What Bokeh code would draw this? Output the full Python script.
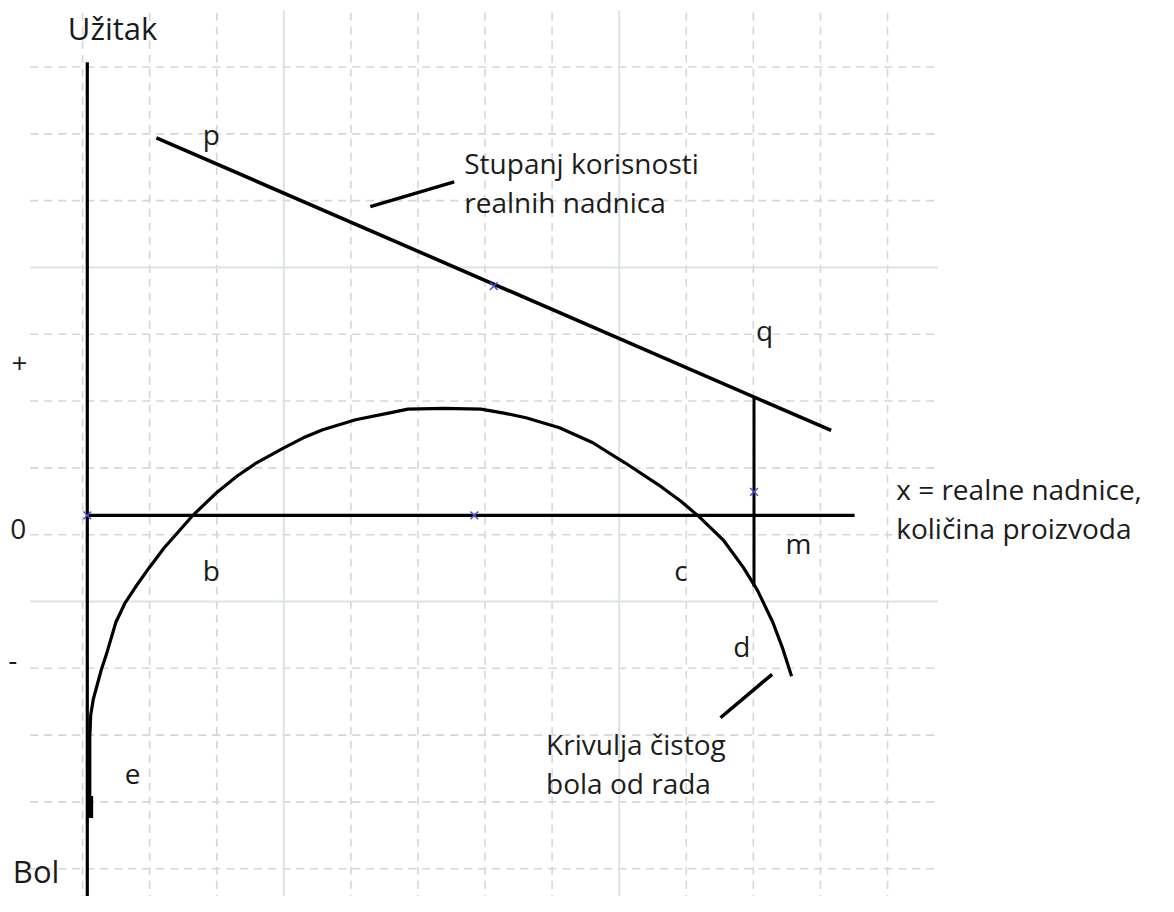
from bokeh.plotting import figure
from bokeh.models import Range1d
from bokeh.core.properties import value
from bokeh.embed import file_html
from bokeh.resources import INLINE

# ---------------- data (grid units, origin at axes crossing) ----------------
# background grid positions
grid_x_dashed = [-0.07, 0.93, 1.93, 3.93, 4.93, 5.93, 6.93, 8.93, 9.93, 10.93, 11.93]
grid_x_solid = [2.93, 7.93]
grid_y_dashed = [6.71, 5.71, 4.71, 2.71, 1.71, 0.71, -0.29, -2.29, -3.29, -4.29, -5.29]
grid_y_solid = [3.71, -1.29]
grid_x_span = [-0.85, 12.68]
grid_y_span = [-5.8, 7.56]

# axes
y_axis_span = [-5.8, 6.78]
x_axis_span = [0.0, 11.44]

# utility of real wages (straight line p - q)
wage_x = [1.03, 11.09]
wage_y = [5.65, 1.27]

# vertical segment q - m
qm_x = 9.94
qm_y = [1.77, -1.07]

# curve of net pain of labour
curve_x = [0.037, 0.037, 0.037, 0.051, 0.088, 0.147, 0.206, 0.279, 0.353, 0.426,
           0.559, 0.721, 0.926, 1.147, 1.368, 1.574, 1.94, 2.235, 2.53, 2.93,
           3.22, 3.51, 4.00, 4.49, 4.78, 5.32, 5.87, 6.21, 6.54, 7.04, 7.53,
           8.01, 8.51, 8.85, 9.12, 9.49, 9.78, 9.99, 10.22, 10.37, 10.50]
curve_y = [-4.53, -3.91, -3.32, -2.99, -2.76, -2.54, -2.32, -2.10, -1.85, -1.60,
           -1.32, -1.07, -0.78, -0.485, -0.235, 0.0, 0.35, 0.588, 0.79, 1.01,
           1.16, 1.28, 1.43, 1.53, 1.59, 1.60, 1.59, 1.53, 1.46, 1.31, 1.09,
           0.79, 0.46, 0.21, -0.02, -0.38, -0.78, -1.12, -1.60, -2.00, -2.41]
# thicker end of the curve where it runs along the axis
tail_x = [0.05, 0.05]
tail_y = [-4.20, -4.53]

# small blue construction marks
mark_x = [0.0, 5.77, 6.06, 9.94]
mark_y = [0.0, 0.0, 3.43, 0.35]

# short pointer strokes for the two captions
ptr_x0 = [4.22, 9.44]
ptr_y0 = [4.62, -3.03]
ptr_x1 = [5.47, 10.21]
ptr_y1 = [4.99, -2.38]

# labels
lab_x = [1.72, 5.62, 5.62, 9.97, -1.13, -1.15, 1.72, 8.75, 10.41, 9.63, 0.56,
         12.06, 12.06, 6.84, 6.84]
lab_y = [5.71, 5.28, 4.69, 2.77, 2.28, -0.20, -0.82, -0.82, -0.41, -1.95, -3.87,
         0.39, -0.19, -3.42, -4.01]
lab_text = ["p", "Stupanj korisnosti", "realnih nadnica", "q", "+", "0", "b", "c",
            "m", "d", "e", "x = realne nadnice,", "količina proizvoda",
            "Krivulja čistog", "bola od rada"]
minus_x = [-1.18]
minus_y = [-2.16]
big_x = [-0.29, -1.11]
big_y = [7.30, -5.33]
big_text = ["Užitak", "Bol"]

# ---------------- figure ----------------
W, H = 1158, 896
U = 68.0
p = figure(width=W, height=H, output_backend="svg", toolbar_location=None,
           x_range=Range1d(-88 / U, (1174 - 88) / U),
           y_range=Range1d((524 - 912) / U, 524 / U),
           min_border=0, background_fill_color="white", border_fill_color="white")
p.axis.visible = False
p.grid.visible = False
p.outline_line_color = None

dash_col = "#d6d6d6"
solid_col = "#dbe3e3"

# grid
p.segment(x0=grid_x_dashed, y0=[grid_y_span[0]] * len(grid_x_dashed),
          x1=grid_x_dashed, y1=[grid_y_span[1]] * len(grid_x_dashed),
          line_color=dash_col, line_width=1.6, line_dash="8 6")
p.segment(x0=[grid_x_span[0]] * len(grid_y_dashed), y0=grid_y_dashed,
          x1=[grid_x_span[1]] * len(grid_y_dashed), y1=grid_y_dashed,
          line_color=dash_col, line_width=1.6, line_dash="8 6")
p.segment(x0=grid_x_solid, y0=[grid_y_span[0]] * len(grid_x_solid),
          x1=grid_x_solid, y1=[grid_y_span[1]] * len(grid_x_solid),
          line_color=solid_col, line_width=2)
p.segment(x0=[grid_x_span[0]] * len(grid_y_solid), y0=grid_y_solid,
          x1=[grid_x_span[1]] * len(grid_y_solid), y1=grid_y_solid,
          line_color=solid_col, line_width=2)

# axes
p.line(x=[0, 0], y=y_axis_span, line_color="black", line_width=3.2)
p.line(x=x_axis_span, y=[0, 0], line_color="black", line_width=3.2)

# curves
p.line(x=wage_x, y=wage_y, line_color="black", line_width=3.6)
p.line(x=[qm_x, qm_x], y=qm_y, line_color="black", line_width=3)
p.line(x=curve_x, y=curve_y, line_color="black", line_width=3.2, line_join="round")
p.line(x=tail_x, y=tail_y, line_color="black", line_width=5)
p.segment(x0=ptr_x0, y0=ptr_y0, x1=ptr_x1, y1=ptr_y1, line_color="black", line_width=3.5)

# marks
p.scatter(x=mark_x, y=mark_y, marker="x", size=11, line_color="#5050d0", line_width=1.5)

# text
font = value("Open Sans")
p.text(x=lab_x, y=lab_y, text=lab_text, text_font=font, text_font_size="28px",
       text_color="#1c1c1c", text_align="left", text_baseline="alphabetic")
p.text(x=minus_x, y=minus_y, text=["-"], text_font=font, text_font_size="28px",
       text_color="#1c1c1c", text_align="left", text_baseline="alphabetic")
p.text(x=big_x, y=big_y, text=big_text, text_font=font, text_font_size="31px",
       text_color="#1c1c1c", text_align="left", text_baseline="alphabetic")

open("out.html", "w").write(file_html(p, INLINE))
